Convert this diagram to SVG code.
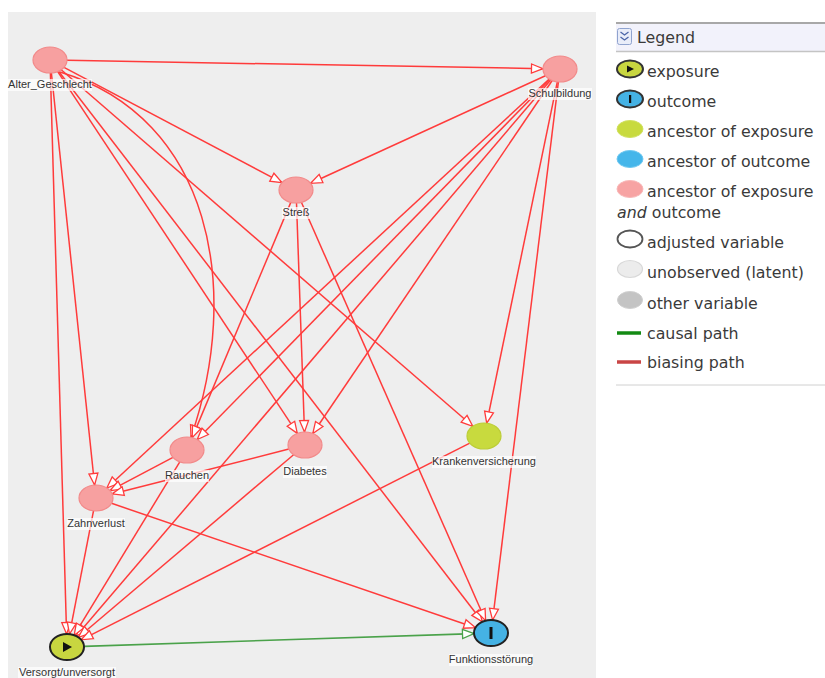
<svg xmlns="http://www.w3.org/2000/svg" width="825" height="678" viewBox="0 0 825 678">
<style>
.bg{fill:#eeeeee}
.e{fill:none;stroke:#ff3b3b;stroke-width:1.5;marker-end:url(#ar)}
.g{fill:none;stroke:#4aa24a;stroke-width:1.6;marker-end:url(#ag)}
.anc{fill:#f7a0a0;stroke:#f28a8a;stroke-width:1.2}
.ancx{fill:#c8da3e;stroke:#bccd36;stroke-width:1.2}
.exp{fill:#c8d640;stroke:#222;stroke-width:2}
.out{fill:#45b2e4;stroke:#222;stroke-width:2}
.lb{font-family:"Liberation Sans",Arial,sans-serif;font-size:11px;fill:#333;text-anchor:middle}
.lbg{fill:#ffffff;fill-opacity:0.7}
.lt{font-family:"DejaVu Sans",Verdana,sans-serif;font-size:15.8px;fill:#3a3a3a}
</style>
<defs>
<marker id="ar" markerUnits="userSpaceOnUse" markerWidth="14" markerHeight="12" refX="12" refY="5" orient="auto" overflow="visible">
<path d="M0.5,0.5 L12,5 L0.5,9.5 Z" fill="#ffffff" stroke="#ff3b3b" stroke-width="1.3"/>
</marker>
<marker id="ag" markerUnits="userSpaceOnUse" markerWidth="14" markerHeight="12" refX="12" refY="5" orient="auto" overflow="visible">
<path d="M0.5,0.5 L12,5 L0.5,9.5 Z" fill="#ffffff" stroke="#4aa24a" stroke-width="1.3"/>
</marker>
</defs>
<rect x="0" y="0" width="825" height="678" fill="#ffffff"/>
<rect class="bg" x="8" y="12" width="588" height="666"/>

<g id="connectors">
<line class="e" x1="67" y1="60.3" x2="543" y2="68.7"/>
<line class="e" x1="64" y1="67.4" x2="282" y2="182.6"/>
<path class="e" d="M60,72 C212,118 242,290 191,437"/>
<line class="e" x1="57.7" y1="71.6" x2="297.3" y2="433.4"/>
<line class="e" x1="61.2" y1="69.7" x2="472.8" y2="426.3"/>
<line class="e" x1="58.6" y1="71.2" x2="482.4" y2="621.8"/>
<line class="e" x1="51.4" y1="73" x2="94.6" y2="485"/>
<line class="e" x1="50.4" y1="73" x2="66.6" y2="634"/>
<line class="e" x1="545.4" y1="75.7" x2="310.6" y2="183.3"/>
<line class="e" x1="549.8" y1="79.4" x2="197.2" y2="439.6"/>
<line class="e" x1="552.2" y1="80.5" x2="312.8" y2="433.5"/>
<line class="e" x1="549.2" y1="79" x2="106.8" y2="488"/>
<line class="e" x1="557.3" y1="81.8" x2="486.7" y2="423.2"/>
<line class="e" x1="558.4" y1="81.9" x2="492.6" y2="620.1"/>
<line class="e" x1="550.7" y1="79.9" x2="76.3" y2="636.1"/>
<line class="e" x1="290.8" y1="202.4" x2="192.2" y2="437.6"/>
<line class="e" x1="296.5" y1="203" x2="304.5" y2="432"/>
<line class="e" x1="301.4" y1="202.3" x2="485.6" y2="620.7"/>
<line class="e" x1="173" y1="457.4" x2="110" y2="490.6"/>
<line class="e" x1="179.8" y1="461.8" x2="74.2" y2="635.2"/>
<line class="e" x1="288.9" y1="449.1" x2="112.1" y2="493.9"/>
<line class="e" x1="293.6" y1="454.7" x2="78.4" y2="637.3"/>
<line class="e" x1="469.8" y1="443.2" x2="81.2" y2="639.8"/>
<line class="e" x1="93.5" y1="510.9" x2="69.5" y2="634.1"/>
<line class="e" x1="111.5" y1="503.3" x2="475.5" y2="627.7"/>
<line class="g" x1="84" y1="646.4" x2="474" y2="633.6"/>
</g>

<g id="node-alter">
<ellipse class="anc" cx="50" cy="60" rx="17" ry="13"/>
<rect class="lbg" x="8" y="79" width="84" height="12"/>
<text class="lb" x="50" y="88">Alter_Geschlecht</text>
</g>
<g id="node-schulbildung">
<ellipse class="anc" cx="560" cy="69" rx="17" ry="13"/>
<rect class="lbg" x="528" y="88" width="64" height="12"/>
<text class="lb" x="560" y="97">Schulbildung</text>
</g>
<g id="node-stress">
<ellipse class="anc" cx="296" cy="190" rx="17" ry="13"/>
<rect class="lbg" x="282" y="207" width="28" height="12"/>
<text class="lb" x="296" y="216">Streß</text>
</g>
<g id="node-rauchen">
<ellipse class="anc" cx="187" cy="450" rx="17" ry="13"/>
<rect class="lbg" x="165" y="470" width="44" height="12"/>
<text class="lb" x="187" y="479">Rauchen</text>
</g>
<g id="node-diabetes">
<ellipse class="anc" cx="305" cy="445" rx="17" ry="13"/>
<rect class="lbg" x="283" y="466" width="44" height="12"/>
<text class="lb" x="305" y="475">Diabetes</text>
</g>
<g id="node-krankenversicherung">
<ellipse class="ancx" cx="484" cy="436" rx="17" ry="13"/>
<rect class="lbg" x="432" y="456" width="104" height="12"/>
<text class="lb" x="484" y="465">Krankenversicherung</text>
</g>
<g id="node-zahnverlust">
<ellipse class="anc" cx="96" cy="498" rx="17" ry="13"/>
<rect class="lbg" x="67" y="518" width="58" height="12"/>
<text class="lb" x="96" y="527">Zahnverlust</text>
</g>
<g id="node-versorgt">
<ellipse class="exp" cx="67" cy="647" rx="17" ry="13"/>
<path d="M63,642 L72,647 L63,652 Z" fill="#111"/>
<rect class="lbg" x="18" y="667" width="98" height="12"/>
<text class="lb" x="67" y="676">Versorgt/unversorgt</text>
</g>
<g id="node-funktionsstoerung">
<ellipse class="out" cx="491" cy="633" rx="17" ry="13"/>
<rect x="489.5" y="627" width="3" height="12" fill="#111"/>
<rect class="lbg" x="449" y="654" width="84" height="12"/>
<text class="lb" x="491" y="663">Funktionsstörung</text>
</g>

<g id="legend">
<line x1="616" y1="23" x2="825" y2="23" stroke="#a8a8a8" stroke-width="2"/>
<rect x="616" y="24" width="209" height="27" fill="#f2f2fb"/>
<line x1="616" y1="51.5" x2="825" y2="51.5" stroke="#c4c4c4" stroke-width="1.5"/>
<rect x="617.5" y="28.5" width="14" height="16" rx="2" fill="#e9edf9" stroke="#8fa3cf"/>
<path d="M620.5,32 l4,3 l4,-3 M620.5,37 l4,3 l4,-3" fill="none" stroke="#4a64a8" stroke-width="1.3"/>
<text class="lt" x="637" y="43">Legend</text>

<ellipse cx="630" cy="69" rx="13" ry="8.5" fill="#c8d640" stroke="#333" stroke-width="2"/>
<path d="M627,65.5 L634,69 L627,72.5 Z" fill="#111"/>
<text class="lt" x="647" y="77">exposure</text>

<ellipse cx="630" cy="99" rx="13" ry="8.5" fill="#45b2e4" stroke="#333" stroke-width="2"/>
<rect x="629" y="95" width="2.2" height="8" fill="#111"/>
<text class="lt" x="647" y="107">outcome</text>

<ellipse cx="630" cy="129" rx="13" ry="8.5" fill="#c8da3e" stroke="#d0e060" stroke-width="1"/>
<text class="lt" x="647" y="137">ancestor of exposure</text>

<ellipse cx="630" cy="159" rx="13" ry="8.5" fill="#45b6ea" stroke="#70c8f0" stroke-width="1"/>
<text class="lt" x="647" y="167">ancestor of outcome</text>

<ellipse cx="630" cy="189" rx="13" ry="8.5" fill="#f7a3a3" stroke="#f8b8b8" stroke-width="1"/>
<text class="lt" x="647" y="197">ancestor of exposure</text>
<text class="lt" x="617" y="218"><tspan font-style="italic">and</tspan> outcome</text>

<ellipse cx="630" cy="239" rx="12.5" ry="8.5" fill="#ffffff" stroke="#555" stroke-width="1.8"/>
<text class="lt" x="647" y="248">adjusted variable</text>

<ellipse cx="630" cy="269" rx="12.5" ry="8.5" fill="#ececec" stroke="#d8d8d8" stroke-width="1.2"/>
<text class="lt" x="647" y="278">unobserved (latent)</text>

<ellipse cx="630" cy="300" rx="12.5" ry="8.5" fill="#c4c4c4" stroke="#d0d0d0" stroke-width="1"/>
<text class="lt" x="647" y="309">other variable</text>

<line x1="617" y1="333" x2="641" y2="333" stroke="#138a13" stroke-width="3.5"/>
<text class="lt" x="647" y="339">causal path</text>

<line x1="617" y1="362" x2="641" y2="362" stroke="#c94545" stroke-width="3.5"/>
<text class="lt" x="647" y="368">biasing path</text>

<line x1="616" y1="385" x2="825" y2="385" stroke="#d0d0d0" stroke-width="1"/>
</g>
</svg>
